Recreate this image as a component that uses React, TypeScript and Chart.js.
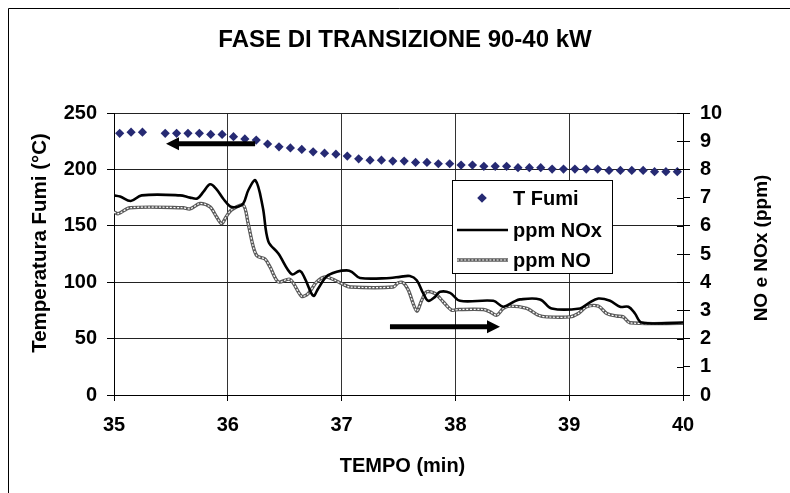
import React, { useEffect, useRef } from "react";
import { Chart, registerables } from "chart.js";

Chart.register(...registerables);

const FONT = '"Liberation Sans", Arial, Helvetica, sans-serif';

// ---- texts ----
const chartTitle = "FASE DI TRANSIZIONE 90-40 kW";
const xTitle = "TEMPO (min)";
const yTitle = "Temperatura Fumi (°C)";
const y1Title = "NO e NOx (ppm)";
const legendLabels = ["T Fumi", "ppm NOx", "ppm NO"];

// ---- axes ----
const xTicks = [35, 36, 37, 38, 39, 40];
const yLeftTicks = [0, 50, 100, 150, 200, 250];
const yRightTicks = [0, 1, 2, 3, 4, 5, 6, 7, 8, 9, 10];

// ---- T Fumi (°C), left axis ----
const tTime = [
  35.05, 35.15, 35.25, 35.35, 35.45, 35.55, 35.65, 35.75, 35.85, 35.95,
  36.05, 36.15, 36.25, 36.35, 36.45, 36.55, 36.65, 36.75, 36.85, 36.95,
  37.05, 37.15, 37.25, 37.35, 37.45, 37.55, 37.65, 37.75, 37.85, 37.95,
  38.05, 38.15, 38.25, 38.35, 38.45, 38.55, 38.65, 38.75, 38.85, 38.95,
  39.05, 39.15, 39.25, 39.35, 39.45, 39.55, 39.65, 39.75, 39.85, 39.95,
];
const tFumi = [
  232, 233, 233, null, 232, 232, 232, 232, 231, 231,
  229, 227, 226, 222.5, 220, 219, 217.7, 215.6, 214.4, 213.5,
  211.8, 209.4, 208.2, 208.2, 207.4, 207.4, 206.2, 206.2, 205, 205,
  203.8, 203.8, 202.7, 202.7, 202.7, 201.5, 201.5, 201.5, 200.3, 200.3,
  200.3, 200.3, 200.3, 199.1, 199.1, 199.1, 199.1, 198, 198, 198,
];

// ---- ppm NOx, right axis ----
const noxTime = [
  35.0, 35.053, 35.147, 35.243, 35.58, 35.668, 35.732, 35.785, 35.844, 35.896,
  35.96, 36.02, 36.078, 36.136, 36.18, 36.243, 36.307, 36.356, 36.444, 36.562,
  36.634, 36.678, 36.751, 36.795, 36.869, 36.957, 37.045, 37.089, 37.162, 37.425,
  37.513, 37.6, 37.66, 37.718, 37.762, 37.821, 37.865, 37.953, 38.04, 38.333,
  38.42, 38.509, 38.568, 38.743, 38.846, 39.095, 39.168, 39.256, 39.359, 39.446,
  39.52, 39.578, 39.637, 40.0,
];
const noxPpm = [
  7.08, 7.04, 6.88, 7.08, 7.08, 7.0, 6.97, 7.2, 7.47, 7.32,
  6.96, 6.69, 6.67, 6.79, 7.26, 7.61, 6.67, 5.45, 5.02, 4.28,
  4.4, 4.13, 3.52, 3.78, 4.21, 4.37, 4.42, 4.37, 4.15, 4.15,
  4.19, 4.22, 4.07, 3.6, 3.34, 3.48, 3.66, 3.62, 3.34, 3.34,
  3.13, 3.3, 3.39, 3.39, 3.07, 3.07, 3.25, 3.42, 3.34, 3.13,
  3.13, 2.89, 2.57, 2.57,
];

// ---- ppm NO, right axis ----
const noTime = [
  35.0, 35.038, 35.14, 35.609, 35.668, 35.756, 35.844, 35.902, 35.946, 35.99,
  36.034, 36.136, 36.178, 36.221, 36.257, 36.327, 36.371, 36.444, 36.547, 36.649,
  36.707, 36.781, 36.854, 36.942, 37.015, 37.074, 37.454, 37.498, 37.542, 37.586,
  37.66, 37.704, 37.748, 37.821, 37.894, 37.967, 38.025, 38.245, 38.304, 38.363,
  38.421, 38.48, 38.627, 38.729, 38.802, 39.007, 39.08, 39.154, 39.256, 39.33,
  39.417, 39.475, 39.534, 40.0,
];
const noPpm = [
  6.49, 6.43, 6.64, 6.64, 6.6, 6.79, 6.67, 6.31, 6.08, 6.35,
  6.57, 6.73, 6.1, 5.3, 4.93, 4.82, 4.54, 4.01, 4.1, 3.5,
  3.6, 4.01, 4.19, 4.07, 3.92, 3.83, 3.83, 3.98, 3.98, 3.72,
  2.98, 3.36, 3.66, 3.6, 3.3, 3.01, 3.03, 3.03, 2.95, 2.83,
  3.07, 3.15, 3.07, 2.83, 2.77, 2.77, 2.89, 3.13, 3.15, 2.89,
  2.8, 2.77, 2.56, 2.54,
];

// ---- annotation arrows (data coordinates, left axis) ----
const arrowLeft = { from: 36.24, to: 35.457, value: 222.7 };
const arrowRight = { from: 37.425, to: 38.392, value: 60.4 };

const NAVY = "#262a73";
const NO_GREY = "#5a5a5a";

const pts = (xs: number[], ys: (number | null)[]) => xs.map((x, i) => ({ x, y: ys[i] }));

function drawArrow(ctx: CanvasRenderingContext2D, x1: number, y: number, x2: number) {
  const dir = Math.sign(x2 - x1);
  const head = 13;
  const hw = 6.5;
  ctx.save();
  ctx.strokeStyle = "#000";
  ctx.fillStyle = "#000";
  ctx.lineWidth = 5;
  ctx.beginPath();
  ctx.moveTo(x1, y);
  ctx.lineTo(x2 - dir * head, y);
  ctx.stroke();
  ctx.beginPath();
  ctx.moveTo(x2, y);
  ctx.lineTo(x2 - dir * head, y - hw);
  ctx.lineTo(x2 - dir * head, y + hw);
  ctx.closePath();
  ctx.fill();
  ctx.restore();
}

const decor = {
  id: "decor",
  beforeDraw(chart: any) {
    const ctx = chart.ctx as CanvasRenderingContext2D;
    ctx.save();
    ctx.fillStyle = "#fff";
    ctx.fillRect(0, 0, chart.width, chart.height);
    // outer frame (left and top edges visible)
    ctx.strokeStyle = "#000";
    ctx.lineWidth = 1;
    ctx.beginPath();
    ctx.moveTo(8.5, chart.height);
    ctx.lineTo(8.5, 8.5);
    ctx.lineTo(chart.width, 8.5);
    ctx.stroke();
    ctx.restore();
  },
  afterDraw(chart: any) {
    const ctx = chart.ctx as CanvasRenderingContext2D;
    const area = chart.chartArea;
    const sx = chart.scales.x;
    const sy = chart.scales.y;
    const sy1 = chart.scales.y1;

    // inner half of right-axis ticks
    ctx.save();
    ctx.strokeStyle = "#000";
    ctx.lineWidth = 1;
    yRightTicks.forEach((v) => {
      const y = Math.round(sy1.getPixelForValue(v)) + 0.5;
      ctx.beginPath();
      ctx.moveTo(area.right - 6, y);
      ctx.lineTo(area.right, y);
      ctx.stroke();
    });
    ctx.restore();

    // arrows
    drawArrow(ctx, sx.getPixelForValue(arrowLeft.from), sy.getPixelForValue(arrowLeft.value), sx.getPixelForValue(arrowLeft.to));
    drawArrow(ctx, sx.getPixelForValue(arrowRight.from), sy.getPixelForValue(arrowRight.value), sx.getPixelForValue(arrowRight.to));

    // legend
    const lx = 452, ly = 180, lw = 160, lh = 93;
    ctx.save();
    ctx.fillStyle = "#fff";
    ctx.fillRect(lx, ly, lw, lh);
    ctx.strokeStyle = "#000";
    ctx.lineWidth = 1;
    ctx.strokeRect(lx + 0.5, ly + 0.5, lw, lh);
    const rows = [198, 230, 260];
    // diamond
    ctx.fillStyle = NAVY;
    ctx.beginPath();
    ctx.moveTo(482, rows[0] - 4.8);
    ctx.lineTo(486.8, rows[0]);
    ctx.lineTo(482, rows[0] + 4.8);
    ctx.lineTo(477.2, rows[0]);
    ctx.closePath();
    ctx.fill();
    // NOx line
    ctx.strokeStyle = "#000";
    ctx.lineWidth = 2.6;
    ctx.beginPath();
    ctx.moveTo(457, rows[1]);
    ctx.lineTo(508, rows[1]);
    ctx.stroke();
    // NO line
    ctx.strokeStyle = NO_GREY;
    ctx.lineWidth = 3.4;
    ctx.beginPath();
    ctx.moveTo(457, rows[2]);
    ctx.lineTo(508, rows[2]);
    ctx.stroke();
    ctx.strokeStyle = "#fff";
    ctx.lineWidth = 1.2;
    ctx.setLineDash([2, 1.6]);
    ctx.beginPath();
    ctx.moveTo(457, rows[2]);
    ctx.lineTo(508, rows[2]);
    ctx.stroke();
    ctx.setLineDash([]);
    ctx.fillStyle = "#000";
    ctx.font = `bold 20px ${FONT}`;
    ctx.textAlign = "left";
    ctx.textBaseline = "middle";
    legendLabels.forEach((t, i) => ctx.fillText(t, 513, rows[i] + 1));
    ctx.restore();

    // titles
    ctx.save();
    ctx.fillStyle = "#000";
    ctx.textAlign = "center";
    ctx.textBaseline = "alphabetic";
    ctx.font = `bold 24px ${FONT}`;
    ctx.fillText(chartTitle, 405, 46.5);
    ctx.font = `bold 20px ${FONT}`;
    ctx.fillText(xTitle, (area.left + area.right) / 2 + 4, 472);
    ctx.restore();

    ctx.save();
    ctx.fillStyle = "#000";
    ctx.textAlign = "center";
    ctx.textBaseline = "alphabetic";
    ctx.font = `bold 20.5px ${FONT}`;
    ctx.translate(45.5, 243);
    ctx.rotate(-Math.PI / 2);
    ctx.fillText(yTitle, 0, 0);
    ctx.restore();

    ctx.save();
    ctx.fillStyle = "#000";
    ctx.textAlign = "center";
    ctx.textBaseline = "alphabetic";
    ctx.font = `bold 19px ${FONT}`;
    ctx.translate(767, 248);
    ctx.rotate(-Math.PI / 2);
    ctx.fillText(y1Title, 0, 0);
    ctx.restore();
  },
};

export default function App() {
  const ref = useRef<HTMLCanvasElement>(null);

  useEffect(() => {
    if (!ref.current) return;
    const tickFont = { family: FONT, size: 20, weight: "bold" as const };
    const chart = new Chart(ref.current, {
      type: "line",
      data: {
        datasets: [
          {
            label: legendLabels[0],
            data: pts(tTime, tFumi),
            yAxisID: "y",
            showLine: false,
            pointStyle: "rectRot",
            pointRadius: 4.6,
            pointBackgroundColor: NAVY,
            pointBorderColor: NAVY,
            pointBorderWidth: 0,
            order: 0,
          },
          {
            label: legendLabels[1],
            data: pts(noxTime, noxPpm),
            yAxisID: "y1",
            borderColor: "#000",
            borderWidth: 2.6,
            pointRadius: 0,
            tension: 0.35,
            order: 1,
          },
          {
            label: legendLabels[2],
            data: pts(noTime, noPpm),
            yAxisID: "y1",
            borderColor: NO_GREY,
            borderWidth: 3.4,
            pointRadius: 0,
            tension: 0.3,
            order: 3,
          },
          {
            label: "ppm NO pattern",
            data: pts(noTime, noPpm),
            yAxisID: "y1",
            borderColor: "#ffffff",
            borderWidth: 1.2,
            borderDash: [2, 1.6],
            pointRadius: 0,
            tension: 0.3,
            order: 2,
          },
        ],
      } as any,
      options: {
        responsive: false,
        devicePixelRatio: 1,
        animation: false,
        layout: { padding: { top: 113, left: 0, right: 0, bottom: 0 } },
        plugins: {
          legend: { display: false },
          title: { display: false },
          tooltip: { enabled: false },
        },
        scales: {
          x: {
            type: "linear",
            min: xTicks[0],
            max: xTicks[xTicks.length - 1],
            afterBuildTicks: (s: any) => {
              s.ticks = xTicks.map((v) => ({ value: v }));
            },
            afterFit: (s: any) => {
              s.height = 98;
            },
            grid: { color: "#333", lineWidth: 1, tickLength: 6, tickColor: "#000" },
            border: { color: "#000", width: 1 },
            ticks: { color: "#000", font: tickFont, padding: 12, maxRotation: 0 },
          },
          y: {
            type: "linear",
            position: "left",
            min: 0,
            max: 250,
            afterBuildTicks: (s: any) => {
              s.ticks = yLeftTicks.map((v) => ({ value: v }));
            },
            afterFit: (s: any) => {
              s.width = 114;
            },
            grid: { color: "#222", lineWidth: 1, tickLength: 7, tickColor: "#000" },
            border: { color: "#000", width: 1 },
            ticks: { color: "#000", font: tickFont, padding: 10 },
          },
          y1: {
            type: "linear",
            position: "right",
            min: 0,
            max: 10,
            afterBuildTicks: (s: any) => {
              s.ticks = yRightTicks.map((v) => ({ value: v }));
            },
            afterFit: (s: any) => {
              s.width = 107;
            },
            grid: { drawOnChartArea: false, tickLength: 7, color: "#000" },
            border: { color: "#000", width: 1 },
            ticks: { color: "#000", font: tickFont, padding: 10 },
          },
        },
      } as any,
      plugins: [decor],
    });
    return () => chart.destroy();
  }, []);

  return (
    <div style={{ position: "fixed", left: 0, top: 0, width: 790, height: 493, background: "#fff" }}>
      <canvas ref={ref} width={790} height={493} style={{ display: "block" }} />
    </div>
  );
}
